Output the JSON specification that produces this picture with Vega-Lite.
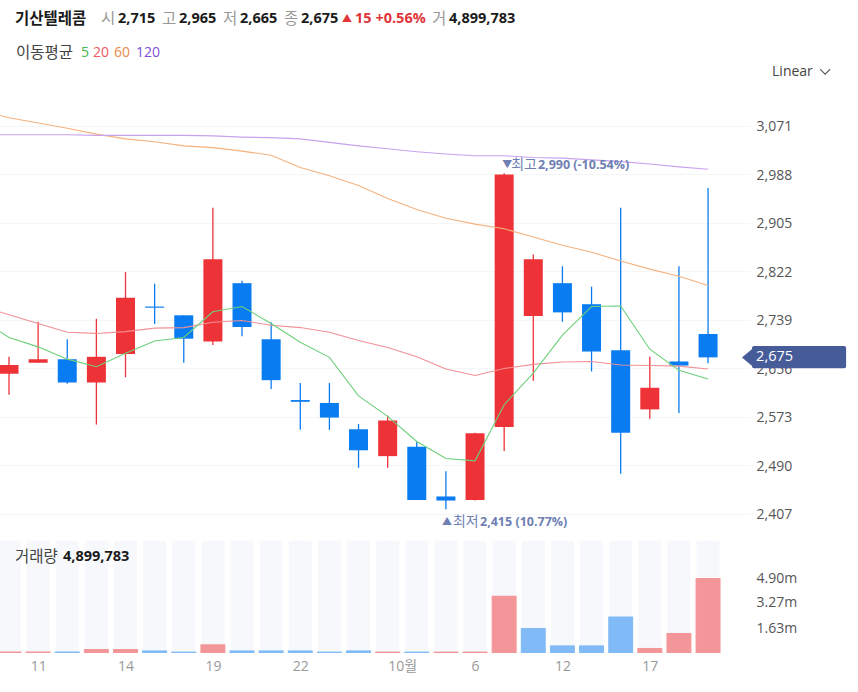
{
  "$schema": "https://vega.github.io/schema/vega-lite/v6.json",
  "width": 750,
  "height": 653,
  "autosize": {"type": "none"},
  "padding": {"left": 0, "top": 0, "right": 108, "bottom": 39},
  "background": "white",
  "config": {
    "view": {"stroke": null},
    "axis": {"labelFont": "Open Sans, Noto Sans CJK KR", "labelFontSize": 14, "domain": false, "ticks": false},
    "text": {"font": "Open Sans, Noto Sans CJK KR", "fontSize": 14, "align": "left", "baseline": "middle"}
  },
  "datasets": {
    "days": [
      {"i": -1, "ma5": 2742, "ma20": 2763, "ma60": 3098, "ma120": 3056},
      {"i": 0, "open": 2647, "close": 2662, "high": 2676, "low": 2611, "side": "up", "vol": 0.09, "volSide": "up", "ma5": 2709, "ma20": 2748, "ma60": 3085, "ma120": 3056},
      {"i": 1, "open": 2666, "close": 2672, "high": 2736, "low": 2666, "side": "up", "vol": 0.09, "volSide": "up", "ma5": 2693, "ma20": 2733, "ma60": 3076, "ma120": 3056},
      {"i": 2, "open": 2672, "close": 2632, "high": 2706, "low": 2630, "side": "down", "vol": 0.09, "volSide": "down", "ma5": 2672, "ma20": 2718, "ma60": 3067, "ma120": 3056},
      {"i": 3, "open": 2632, "close": 2676, "high": 2741, "low": 2560, "side": "up", "vol": 0.26, "volSide": "up", "ma5": 2659, "ma20": 2716, "ma60": 3057, "ma120": 3055},
      {"i": 4, "open": 2681, "close": 2777, "high": 2821, "low": 2641, "side": "up", "vol": 0.26, "volSide": "up", "ma5": 2682, "ma20": 2719, "ma60": 3049, "ma120": 3055},
      {"i": 5, "open": 2762, "close": 2760, "high": 2801, "low": 2732, "side": "down", "vol": 0.17, "volSide": "down", "ma5": 2703, "ma20": 2725, "ma60": 3044, "ma120": 3055},
      {"i": 6, "open": 2747, "close": 2707, "high": 2747, "low": 2666, "side": "down", "vol": 0.09, "volSide": "down", "ma5": 2709, "ma20": 2726, "ma60": 3037, "ma120": 3055},
      {"i": 7, "open": 2702, "close": 2843, "high": 2931, "low": 2696, "side": "up", "vol": 0.57, "volSide": "up", "ma5": 2753, "ma20": 2735, "ma60": 3034, "ma120": 3054},
      {"i": 8, "open": 2802, "close": 2727, "high": 2806, "low": 2711, "side": "down", "vol": 0.17, "volSide": "down", "ma5": 2762, "ma20": 2738, "ma60": 3028, "ma120": 3052},
      {"i": 9, "open": 2706, "close": 2636, "high": 2735, "low": 2621, "side": "down", "vol": 0.17, "volSide": "down", "ma5": 2733, "ma20": 2730, "ma60": 3021, "ma120": 3051},
      {"i": 10, "open": 2602, "close": 2599, "high": 2631, "low": 2551, "side": "down", "vol": 0.17, "volSide": "down", "ma5": 2701, "ma20": 2726, "ma60": 3000, "ma120": 3049},
      {"i": 11, "open": 2597, "close": 2572, "high": 2631, "low": 2551, "side": "down", "vol": 0.09, "volSide": "down", "ma5": 2675, "ma20": 2718, "ma60": 2986, "ma120": 3043},
      {"i": 12, "open": 2552, "close": 2516, "high": 2561, "low": 2486, "side": "down", "vol": 0.17, "volSide": "down", "ma5": 2609, "ma20": 2704, "ma60": 2969, "ma120": 3037},
      {"i": 13, "open": 2506, "close": 2567, "high": 2575, "low": 2486, "side": "up", "vol": 0.09, "volSide": "up", "ma5": 2574, "ma20": 2692, "ma60": 2947, "ma120": 3032},
      {"i": 14, "open": 2522, "close": 2431, "high": 2530, "low": 2431, "side": "down", "vol": 0.09, "volSide": "down", "ma5": 2531, "ma20": 2676, "ma60": 2928, "ma120": 3027},
      {"i": 15, "open": 2437, "close": 2430, "high": 2480, "low": 2415, "side": "down", "vol": 0.09, "volSide": "up", "ma5": 2502, "ma20": 2655, "ma60": 2913, "ma120": 3023},
      {"i": 16, "open": 2431, "close": 2545, "high": 2546, "low": 2430, "side": "up", "vol": 0.09, "volSide": "up", "ma5": 2498, "ma20": 2644, "ma60": 2903, "ma120": 3020},
      {"i": 17, "open": 2556, "close": 2988, "high": 2990, "low": 2515, "side": "up", "vol": 3.75, "volSide": "up", "ma5": 2594, "ma20": 2656, "ma60": 2895, "ma120": 3020},
      {"i": 18, "open": 2746, "close": 2843, "high": 2851, "low": 2635, "side": "up", "vol": 1.63, "volSide": "down", "ma5": 2648, "ma20": 2663, "ma60": 2881, "ma120": 3017},
      {"i": 19, "open": 2802, "close": 2752, "high": 2831, "low": 2736, "side": "down", "vol": 0.5, "volSide": "down", "ma5": 2713, "ma20": 2667, "ma60": 2867, "ma120": 3016},
      {"i": 20, "open": 2766, "close": 2685, "high": 2796, "low": 2651, "side": "down", "vol": 0.5, "volSide": "down", "ma5": 2762, "ma20": 2668, "ma60": 2855, "ma120": 3013},
      {"i": 21, "open": 2687, "close": 2546, "high": 2931, "low": 2476, "side": "down", "vol": 2.38, "volSide": "down", "ma5": 2763, "ma20": 2662, "ma60": 2840, "ma120": 3010},
      {"i": 22, "open": 2586, "close": 2623, "high": 2676, "low": 2570, "side": "up", "vol": 0.33, "volSide": "up", "ma5": 2689, "ma20": 2661, "ma60": 2826, "ma120": 3006},
      {"i": 23, "open": 2668, "close": 2661, "high": 2831, "low": 2580, "side": "down", "vol": 1.31, "volSide": "up", "ma5": 2653, "ma20": 2660, "ma60": 2814, "ma120": 3001},
      {"i": 24, "open": 2715, "close": 2675, "high": 2965, "low": 2665, "side": "down", "vol": 4.9, "volSide": "up", "ma5": 2638, "ma20": 2655, "ma60": 2798, "ma120": 2997}
    ],
    "notes": [
      {"i": 0.206, "p": 3254, "label": "기산텔레콤", "kind": "ink"},
      {"i": 3.159, "p": 3254, "label": "시", "kind": "mute"},
      {"i": 3.742, "p": 3254, "label": "2,715", "kind": "ink"},
      {"i": 5.253, "p": 3254, "label": "고", "kind": "mute"},
      {"i": 5.837, "p": 3254, "label": "2,965", "kind": "ink"},
      {"i": 7.348, "p": 3254, "label": "저", "kind": "mute"},
      {"i": 7.931, "p": 3254, "label": "2,665", "kind": "ink"},
      {"i": 9.442, "p": 3254, "label": "종", "kind": "mute"},
      {"i": 10.026, "p": 3254, "label": "2,675", "kind": "ink"},
      {"i": 11.433, "p": 3254, "label": "▲", "kind": "rise"},
      {"i": 11.88, "p": 3254, "label": "15 +0.56%", "kind": "rise"},
      {"i": 14.524, "p": 3254, "label": "거", "kind": "mute"},
      {"i": 15.107, "p": 3254, "label": "4,899,783", "kind": "ink"},
      {"i": 0.24, "p": 3196, "label": "이동평균", "kind": "plain"},
      {"i": 2.472, "p": 3196, "label": "5", "kind": "ma5"},
      {"i": 2.884, "p": 3196, "label": "20", "kind": "ma20"},
      {"i": 3.605, "p": 3196, "label": "60", "kind": "ma60"},
      {"i": 4.361, "p": 3196, "label": "120", "kind": "ma120"},
      {"i": 26.197, "p": 3163, "label": "Linear", "kind": "plain"},
      {"i": 16.93, "p": 3005, "label": "▼", "kind": "extreme"},
      {"i": 17.24, "p": 3005, "label": "최고", "kind": "extreme"},
      {"i": 18.16, "p": 3005, "label": "2,990 (-10.54%)", "kind": "extremeValue"},
      {"i": 14.87, "p": 2393, "label": "▲", "kind": "extreme"},
      {"i": 15.24, "p": 2393, "label": "최저", "kind": "extreme"},
      {"i": 16.17, "p": 2393, "label": "2,415 (10.77%)", "kind": "extremeValue"},
      {"i": 0.206, "p": 2333, "label": "거래량", "kind": "plain"},
      {"i": 1.854, "p": 2333, "label": "4,899,783", "kind": "ink"}
    ]
  },
  "encoding": {
    "x": {
      "field": "i",
      "type": "quantitative",
      "scale": {"domain": [-0.309, 25.44], "nice": false, "zero": false, "padding": 0},
      "axis": {
        "title": null,
        "values": [1, 4, 7, 10, 13.5, 16, 19, 22],
        "labelExpr": "datum.value == 13.5 ? '10월' : datum.value == 1 ? '11' : datum.value == 4 ? '14' : datum.value == 7 ? '19' : datum.value == 10 ? '22' : datum.value == 16 ? '6' : datum.value == 19 ? '12' : '17'",
        "grid": false,
        "labelColor": "#999999",
        "labelPadding": 6,
        "labelOverlap": false,
        "labelFlush": false
      }
    }
  },
  "layer": [
    {
      "layer": [
        {
          "data": {"name": "days"},
          "mark": {"type": "bar", "size": 23, "color": "#f7f8fc"},
          "encoding": {
            "y": {
              "datum": 7.33,
              "type": "quantitative",
              "scale": {"domain": [0, 42.68], "nice": false, "zero": false},
              "axis": {
                "title": null,
                "values": [1.63, 3.27, 4.9],
                "orient": "right",
                "labelExpr": "format(datum.value, '.2f') + 'm'",
                "grid": false,
                "labelColor": "#555555",
                "labelPadding": 6
              }
            },
            "y2": {"datum": 0}
          }
        },
        {
          "data": {"name": "days"},
          "mark": {"type": "bar", "size": 25, "opacity": 0.5},
          "encoding": {
            "y": {"field": "vol", "type": "quantitative", "axis": {"title": null}},
            "color": {"field": "volSide", "type": "nominal", "legend": null}
          }
        }
      ]
    },
    {
      "layer": [
        {
          "data": {"name": "days"},
          "mark": {"type": "rule", "strokeWidth": 1.3},
          "encoding": {
            "y": {
              "field": "low",
              "type": "quantitative",
              "scale": {"domain": [2169.1, 3286.6], "nice": false, "zero": false},
              "axis": {
                "title": null,
                "values": [2407, 2490, 2573, 2656, 2739, 2822, 2905, 2988, 3071],
                "orient": "right",
                "format": ",d",
                "grid": true,
                "gridColor": "#f4f5f7",
                "labelColor": "#555555",
                "labelPadding": 6,
                "labelOffset": 1
              }
            },
            "y2": {"field": "high"},
            "color": {"field": "side", "type": "nominal", "legend": null, "scale": {"domain": ["up", "down", "ink", "mute", "plain", "rise", "ma5", "ma20", "ma60", "ma120", "extreme", "extremeValue"], "range": ["#ee3338", "#0a7cf1", "#1b1b1b", "#999999", "#444444", "#e0353b", "#3fb950", "#ee5a60", "#e88a4e", "#7f4fd8", "#6f7fb3", "#6f7fb3"]}}
          }
        },
        {
          "data": {"name": "days"},
          "mark": {"type": "bar", "size": 19},
          "encoding": {
            "y": {"field": "open", "type": "quantitative", "axis": {"title": null}},
            "y2": {"field": "close"},
            "color": {"field": "side", "type": "nominal", "legend": null}
          }
        },
        {
          "data": {"name": "days"},
          "mark": {"type": "line", "color": "#f29095", "strokeWidth": 1.1, "clip": true},
          "encoding": {"y": {"field": "ma20", "type": "quantitative", "axis": {"title": null}}}
        },
        {
          "data": {"name": "days"},
          "mark": {"type": "line", "color": "#f5b27e", "strokeWidth": 1.1, "clip": true},
          "encoding": {"y": {"field": "ma60", "type": "quantitative", "axis": {"title": null}}}
        },
        {
          "data": {"name": "days"},
          "mark": {"type": "line", "color": "#c9a2ef", "strokeWidth": 1.1, "clip": true},
          "encoding": {"y": {"field": "ma120", "type": "quantitative", "axis": {"title": null}}}
        },
        {
          "data": {"name": "days"},
          "mark": {"type": "line", "color": "#6ecf79", "strokeWidth": 1.1, "clip": true},
          "encoding": {"y": {"field": "ma5", "type": "quantitative", "axis": {"title": null}}}
        },
        {
          "data": {"values": [{"i": 25.51, "to": 28.74, "top": 2694.5, "bottom": 2656.3}]},
          "mark": {"type": "bar", "color": "#465c99", "cornerRadius": 2},
          "encoding": {
            "x": {"field": "i", "type": "quantitative"},
            "x2": {"field": "to"},
            "y": {"field": "top", "type": "quantitative", "axis": {"title": null}},
            "y2": {"field": "bottom"}
          }
        },
        {
          "data": {"values": [{"i": 25.39, "p": 2675}]},
          "mark": {"type": "point", "shape": "M-0.6,0L0.6,-1L0.6,1Z", "filled": true, "size": 484, "color": "#465c99", "opacity": 1},
          "encoding": {"y": {"field": "p", "type": "quantitative", "axis": {"title": null}}}
        },
        {
          "data": {"values": [{"i": 25.65, "p": 2675, "label": "2,675"}]},
          "mark": {"type": "text", "color": "white", "fontSize": 14.5},
          "encoding": {
            "y": {"field": "p", "type": "quantitative", "axis": {"title": null}},
            "text": {"field": "label"}
          }
        },
        {
          "data": {"values": [{"i": 28.02, "p": 3164}]},
          "mark": {"type": "point", "shape": "M-1,-0.5L0,0.5L1,-0.5", "filled": false, "size": 100, "color": "#555555", "strokeWidth": 1.1, "opacity": 1},
          "encoding": {"y": {"field": "p", "type": "quantitative", "axis": {"title": null}}}
        },
        {
          "data": {"name": "notes"},
          "transform": [{"filter": "indexof(['ink', 'rise', 'extremeValue'], datum.kind) >= 0"}],
          "mark": {"type": "text", "fontWeight": "bold"},
          "encoding": {
            "y": {"field": "p", "type": "quantitative", "axis": {"title": null}},
            "text": {"field": "label"},
            "size": {"condition": [
              {"test": "datum.label == '▲'", "value": 10},
              {"test": "datum.kind == 'extremeValue'", "value": 12.5},
              {"test": "test(/[가-힣]/, datum.label)", "value": 15.5}
            ], "value": 14.5},
            "color": {"field": "kind", "type": "nominal", "legend": null}
          }
        },
        {
          "data": {"name": "notes"},
          "transform": [{"filter": "indexof(['ink', 'rise', 'extremeValue'], datum.kind) < 0"}],
          "mark": {"type": "text"},
          "encoding": {
            "y": {"field": "p", "type": "quantitative", "axis": {"title": null}},
            "text": {"field": "label"},
            "size": {"condition": [
              {"test": "datum.label == '▲' || datum.label == '▼'", "value": 10},
              {"test": "datum.kind == 'extreme'", "value": 14},
              {"test": "test(/[가-힣]/, datum.label)", "value": 15.5}
            ], "value": 14},
            "color": {"field": "kind", "type": "nominal", "legend": null}
          }
        }
      ]
    }
  ],
  "resolve": {"scale": {"y": "independent"}}
}
